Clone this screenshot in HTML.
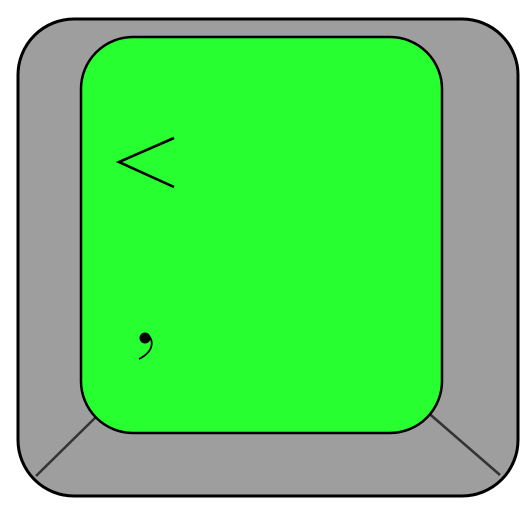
<!DOCTYPE html>
<html><head><meta charset="utf-8"><style>html,body{margin:0;padding:0;background:#fff;width:530px;height:509px;overflow:hidden}</style></head>
<body>
<svg width="530" height="509" viewBox="0 0 530 509">
<rect x="18" y="19" width="500" height="477" rx="56" ry="56" fill="#9e9e9e" stroke="#000" stroke-width="3"/>
<line x1="99" y1="414" x2="36" y2="476" stroke="#333" stroke-width="2.5"/>
<line x1="425" y1="410" x2="500" y2="475" stroke="#333" stroke-width="2.5"/>
<rect x="81" y="37" width="361" height="396" rx="52" ry="52" fill="#28ff31" stroke="#000" stroke-width="2.5"/>
<polyline points="174,138 119,162 174,187" fill="none" stroke="#000" stroke-width="2.6"/>
<g>
<circle cx="145" cy="338" r="5.5" fill="#000"/>
<path d="M149,336 C154,342 153,352 139,359" fill="none" stroke="#000" stroke-width="1.8"/>
</g>
</svg>
</body></html>
